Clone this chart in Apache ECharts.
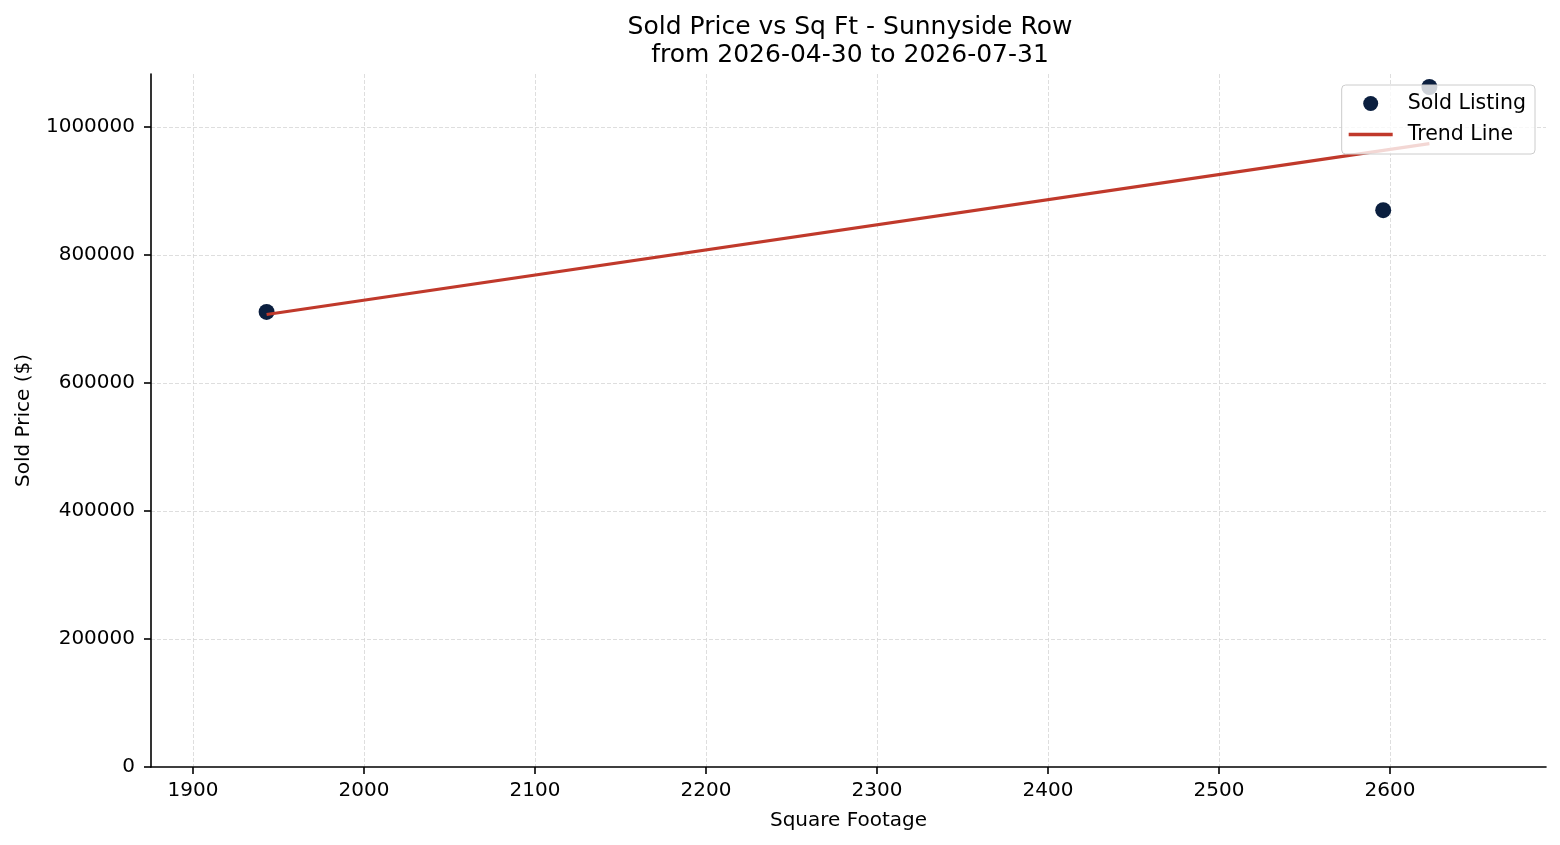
<!DOCTYPE html>
<html lang="en">
<head>
    <meta charset="utf-8" />
    <title>Sold Price vs Sq Ft</title>
    <script src="https://cdn.jsdelivr.net/npm/echarts@6/dist/echarts.min.js"></script>
</head>
<body style="margin:0;background:#fff;">
    <div id="main" style="width:1560px;height:845px;"></div>
    <script type="text/javascript">
        // data
        var sqft = [1943, 2596, 2623];
        var soldPrice = [711000, 870000, 1062500];
        var trendSqft = [1943, 2623];
        var trendPrice = [707000, 974000];

        var titleLines = ['Sold Price vs Sq Ft - Sunnyside Row', 'from 2026-04-30 to 2026-07-31'];
        var fontFam = 'DejaVu Sans';

        var myChart = echarts.init(document.getElementById('main'));

        var plain = function (v) { return String(v); };
        var gridLine = { show: true, showMinLine: false, showMaxLine: false, lineStyle: { color: '#d6d6d6', type: [4, 2], width: 0.8 } };

        var option = {
            animation: false,
            textStyle: { fontFamily: fontFam },
            title: {
                text: titleLines.join('\n'),
                left: 845,
                textAlign: 'center',
                top: 8,
                textStyle: { fontSize: 25, fontWeight: 'normal', color: '#000', lineHeight: 28, fontFamily: fontFam }
            },
            legend: {
                orient: 'vertical',
                right: 25,
                top: 85,
                padding: [8, 9, 9, 7],
                itemGap: 10,
                itemWidth: 44,
                itemHeight: 15,
                symbolKeepAspect: true,
                backgroundColor: 'rgba(255,255,255,0.8)',
                borderColor: '#cccccc',
                borderWidth: 1,
                borderRadius: 4,
                textStyle: { fontSize: 20.5, color: '#000', fontFamily: fontFam, padding: [0, 0, 0, 10] },
                data: [
                    { name: 'Sold Listing', icon: 'circle' },
                    { name: 'Trend Line', icon: 'path://M0,0H44V3.5H0Z' }
                ]
            },
            grid: { left: 151, right: 14, top: 74, bottom: 78 },
            xAxis: {
                type: 'value',
                min: 1875.4,
                max: 2691.2,
                splitNumber: 8,
                name: 'Square Footage',
                nameLocation: 'middle',
                nameGap: 44,
                nameTextStyle: { fontSize: 20, color: '#000' },
                axisLine: { lineStyle: { color: '#000', width: 1.6 } },
                axisTick: { show: true, length: 7, lineStyle: { color: '#000', width: 1.6 } },
                axisLabel: { fontSize: 20, color: '#000', margin: 14, showMinLabel: false, showMaxLabel: false, formatter: plain },
                splitLine: gridLine
            },
            yAxis: {
                type: 'value',
                min: 0,
                max: 1082800,
                interval: 200000,
                name: 'Sold Price ($)',
                nameLocation: 'middle',
                nameGap: 117,
                nameTextStyle: { fontSize: 20, color: '#000' },
                axisLine: { show: true, lineStyle: { color: '#000', width: 1.6 } },
                axisTick: { show: true, length: 7, lineStyle: { color: '#000', width: 1.6 } },
                axisLabel: { fontSize: 20, color: '#000', margin: 16, showMaxLabel: false, formatter: plain },
                splitLine: gridLine
            },
            series: [
                {
                    name: 'Sold Listing',
                    type: 'scatter',
                    symbolSize: 16,
                    itemStyle: { color: '#0b1f3f', opacity: 1 },
                    data: sqft.map(function (x, i) { return [x, soldPrice[i]]; }),
                    z: 2
                },
                {
                    name: 'Trend Line',
                    type: 'line',
                    showSymbol: false,
                    symbol: 'none',
                    lineStyle: { color: '#c0392b', width: 3.2 },
                    itemStyle: { color: '#c0392b' },
                    data: trendSqft.map(function (x, i) { return [x, trendPrice[i]]; }),
                    z: 3
                }
            ]
        };

        myChart.setOption(option);
    </script>
</body>
</html>
